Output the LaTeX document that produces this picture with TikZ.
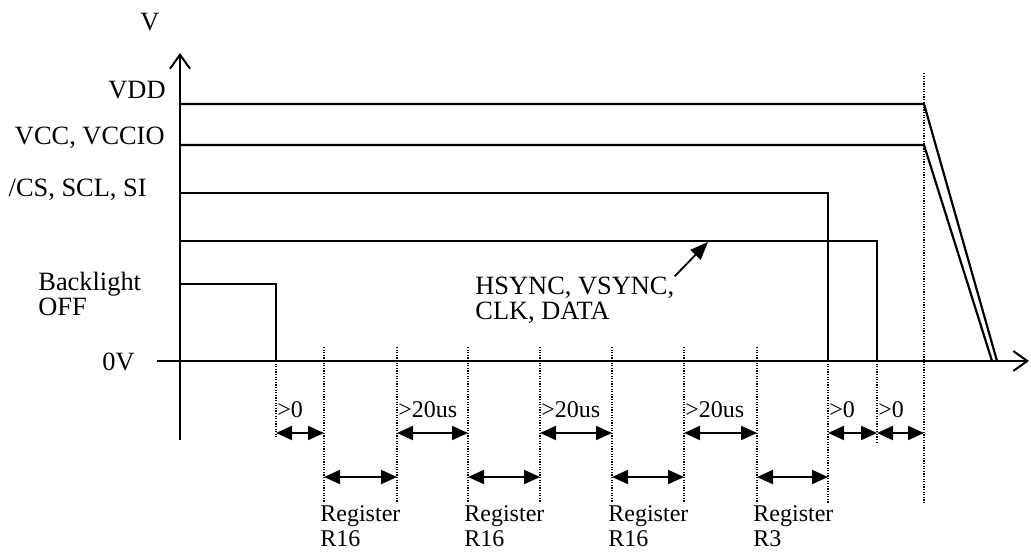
\documentclass[tikz,border=0pt]{standalone}
\usepackage{fontspec}
\setmainfont{Liberation Serif}
\usetikzlibrary{arrows.meta}
\tikzset{
    axis/.style={line width=1pt, -{Straight Barb[length=7pt, width=10pt]}},
    signal/.style={line width=1.1pt, line join=miter},
    guide/.style={line width=0.8pt, dash pattern=on 0.6pt off 0.7pt},
    span/.style={line width=1pt, {Triangle[length=8pt, width=7pt]}-{Triangle[length=8pt, width=7pt]}},
    pointer/.style={line width=0.9pt, -{Triangle[length=9pt, width=7pt]}},
    level/.style={inner sep=0pt, align=left, font=\fontsize{13.2}{12.5}\selectfont},
    timing/.style={inner sep=0pt, align=left, font=\fontsize{12}{12.5}\selectfont}
}

\begin{document}
\begin{tikzpicture}[x=0.5pt, y=-0.5pt]
  \useasboundingbox (0,0) rectangle (1031,552);
  % marks on the time axis
  \foreach \n/\x in {0/276, 1/324, 2/397, 3/468, 4/540, 5/612, 6/684, 7/757, 8/828, 9/877, 10/924}
    \coordinate (t\n) at (\x,361);
  \coordinate (ytop) at (180,53);
  \coordinate (ybot) at (180,440);
  \coordinate (xleft) at (157,361);
  \coordinate (xright) at (1029,361);
  \coordinate (gtop) at (0,347);
  \coordinate (gbot) at (0,503);
  \coordinate (row1) at (0,433);
  \coordinate (row2) at (0,477);

  % axes
  \draw[axis](ybot)--(ytop);
  \draw[axis](xleft)--(xright);
  \node(V)[level] at (150,22){V};

  % levels
  \node(vdd)[level, anchor=east] at (166,90){VDD};
  \node(vcc)[level, anchor=east] at (165,138){VCC, VCCIO};
  \node(cs)[level, anchor=east] at (147,190){/CS, SCL, SI};
  \node(bl)[level, anchor=west] at (38,294){Backlight\\OFF};
  \node(zero)[level, anchor=east] at (135,362){0V};

  % signals
  \draw[signal](180,104)--(t10 |- 0,104)--(997,361);
  \draw[signal](180,145)--(t10 |- 0,145)--(992,361);
  \draw[signal](180,193)--(t8 |- 0,193)--(t8);
  \draw[signal](180,241)--(t9 |- 0,241)--(t9);
  \draw[signal](180,284)--(t0 |- 0,284)--(t0);

  \node(sync)[level, anchor=west] at (475,300){HSYNC, VSYNC,\\CLK, DATA};
  \coordinate (syncpt) at (708,242);
  \draw[pointer](sync.north east)--(syncpt);

  % dotted guides
  \draw[guide](t0)--(t0 |- 0,437);
  \foreach \n in {1,...,7}
    \draw[guide](t\n |- gtop)--(t\n |- gbot);
  \draw[guide](t8)--(t8 |- gbot);
  \draw[guide](t9)--(t9 |- 0,442);
  \draw[guide](t10 |- 0,73)--(t10 |- gbot);

  % intervals
  \foreach \a/\b in {0/1, 2/3, 4/5, 6/7, 8/9, 9/10}
    \draw[span](t\a |- row1)--(t\b |- row1);
  \foreach \a/\b in {1/2, 3/4, 5/6, 7/8}
    \draw[span](t\a |- row2)--(t\b |- row2);

  \node(d0)[timing, anchor=west, xshift=0.5pt] at (t0 |- 0,410){>0};
  \node(d2)[timing, anchor=west, xshift=0.5pt] at (t2 |- 0,410){>20us};
  \node(d4)[timing, anchor=west, xshift=0.5pt] at (t4 |- 0,410){>20us};
  \node(d6)[timing, anchor=west, xshift=0.5pt] at (t6 |- 0,410){>20us};
  \node(d8)[timing, anchor=west, xshift=0.5pt] at (t8 |- 0,410){>0};
  \node(d9)[timing, anchor=west, xshift=0.5pt] at (t9 |- 0,410){>0};

  \node(r1)[timing, anchor=north west, xshift=-2pt] at (t1 |- 0,505){Register\\R16};
  \node(r3)[timing, anchor=north west, xshift=-2pt] at (t3 |- 0,505){Register\\R16};
  \node(r5)[timing, anchor=north west, xshift=-2pt] at (t5 |- 0,505){Register\\R16};
  \node(r7)[timing, anchor=north west, xshift=-2pt] at (t7 |- 0,505){Register\\R3};
\end{tikzpicture}
\end{document}
